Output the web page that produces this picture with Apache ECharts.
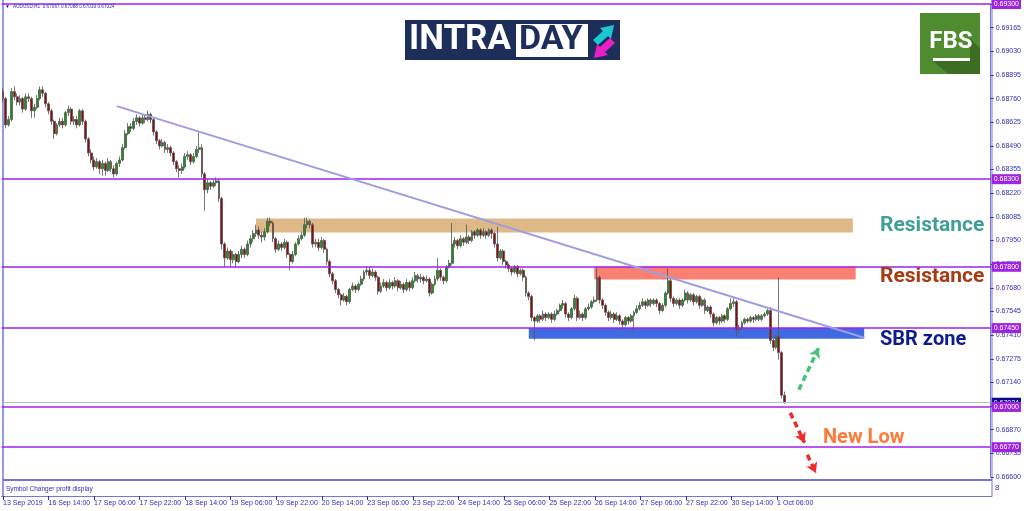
<!DOCTYPE html>
<html><head><meta charset="utf-8">
<script src="https://cdn.jsdelivr.net/npm/echarts@6/dist/echarts.min.js"></script>
<style>html,body{margin:0;padding:0;background:#fff}#c{width:1024px;height:511px}</style>
</head><body><div id="c"></div>
<script>
// ---------- DATA ----------
// trading sessions (H1 bars): [day label, first hour, last hour]
const sessions = [['13 Sep',22,23],['16 Sep',0,23],['17 Sep',0,23],['18 Sep',0,23],['19 Sep',0,23],['20 Sep',0,23],
  ['23 Sep',0,23],['24 Sep',0,23],['25 Sep',0,23],['26 Sep',0,23],['27 Sep',0,23],['30 Sep',0,23],['1 Oct',0,9]];
const firstLabel = '13 Sep 2019';

// candles [open, close, low, high] — 13 Sep 22:00 .. 20 Sep 23:00
const candlesWeek1 = [
[0.6880,0.6876,0.6874,0.6882],[0.6876,0.6861,0.6859,0.6877],
[0.6861,0.6864,0.6860,0.6866],[0.6864,0.6880,0.6863,0.6882],[0.6880,0.6877,0.6875,0.6883],[0.6877,0.6874,0.6872,0.6879],
[0.6874,0.6876,0.6872,0.6878],[0.6876,0.6870,0.6868,0.6877],[0.6870,0.6877,0.6869,0.6879],[0.6877,0.6876,0.6874,0.6879],
[0.6876,0.6869,0.6865,0.6877],[0.6869,0.6871,0.6865,0.6873],[0.6871,0.6876,0.6870,0.6878],[0.6876,0.6881,0.6875,0.6883],
[0.6881,0.6879,0.6877,0.6883],[0.6879,0.6873,0.6871,0.6880],[0.6873,0.6869,0.6867,0.6874],[0.6869,0.6863,0.6861,0.6870],
[0.6863,0.6856,0.6853,0.6864],[0.6856,0.6861,0.6855,0.6862],[0.6861,0.6863,0.6860,0.6865],[0.6863,0.6861,0.6859,0.6865],
[0.6861,0.6868,0.6860,0.6869],[0.6868,0.6870,0.6866,0.6872],[0.6870,0.6863,0.6861,0.6871],[0.6863,0.6864,0.6861,0.6866],
[0.6864,0.6861,0.6859,0.6866],[0.6861,0.6869,0.6860,0.6870],[0.6869,0.6863,0.6861,0.6870],[0.6863,0.6853,0.6851,0.6864],
[0.6853,0.6845,0.6843,0.6854],[0.6845,0.6841,0.6839,0.6847],[0.6841,0.6837,0.6835,0.6843],[0.6837,0.6840,0.6836,0.6842],
[0.6840,0.6836,0.6833,0.6841],[0.6836,0.6839,0.6832,0.6841],[0.6839,0.6835,0.6832,0.6840],[0.6835,0.6840,0.6834,0.6842],
[0.6840,0.6836,0.6834,0.6841],[0.6836,0.6833,0.6831,0.6838],[0.6833,0.6839,0.6832,0.6840],[0.6839,0.6841,0.6837,0.6843],
[0.6841,0.6848,0.6840,0.6850],[0.6848,0.6856,0.6847,0.6858],[0.6856,0.6860,0.6855,0.6862],[0.6860,0.6859,0.6857,0.6862],
[0.6859,0.6863,0.6858,0.6865],[0.6863,0.6865,0.6861,0.6867],[0.6865,0.6862,0.6860,0.6866],[0.6862,0.6865,0.6861,0.6867],
[0.6865,0.6864,0.6862,0.6867],[0.6864,0.6867,0.6863,0.6869],[0.6867,0.6864,0.6862,0.6868],[0.6864,0.6857,0.6855,0.6865],
[0.6857,0.6852,0.6850,0.6858],[0.6852,0.6849,0.6847,0.6853],[0.6849,0.6851,0.6848,0.6853],[0.6851,0.6847,0.6845,0.6852],
[0.6847,0.6848,0.6845,0.6850],[0.6848,0.6845,0.6843,0.6849],[0.6845,0.6840,0.6838,0.6846],[0.6840,0.6836,0.6834,0.6841],
[0.6836,0.6835,0.6831,0.6838],[0.6835,0.6837,0.6833,0.6839],[0.6837,0.6843,0.6836,0.6845],[0.6843,0.6844,0.6841,0.6846],
[0.6844,0.6840,0.6838,0.6845],[0.6840,0.6843,0.6839,0.6845],[0.6843,0.6847,0.6842,0.6849],[0.6847,0.6848,0.6845,0.6857],
[0.6848,0.6833,0.6831,0.6850],[0.6833,0.6824,0.6812,0.6834],[0.6824,0.6828,0.6822,0.6830],[0.6828,0.6826,0.6824,0.6829],
[0.6826,0.6828,0.6825,0.6830],[0.6828,0.6829,0.6826,0.6831],[0.6829,0.6819,0.6817,0.6830],[0.6819,0.6793,0.6790,0.6820],
[0.6793,0.6785,0.6780,0.6794],[0.6785,0.6789,0.6784,0.6791],[0.6789,0.6784,0.6780,0.6790],[0.6784,0.6787,0.6782,0.6789],
[0.6787,0.6783,0.6780,0.6788],[0.6783,0.6787,0.6782,0.6789],[0.6787,0.6790,0.6785,0.6792],[0.6790,0.6787,0.6785,0.6791],
[0.6787,0.6793,0.6786,0.6795],[0.6793,0.6796,0.6791,0.6798],[0.6796,0.6799,0.6794,0.6801],[0.6799,0.6801,0.6797,0.6804],
[0.6801,0.6798,0.6796,0.6803],[0.6798,0.6797,0.6794,0.6800],[0.6797,0.6800,0.6795,0.6802],[0.6800,0.6806,0.6799,0.6808],
[0.6806,0.6805,0.6803,0.6808],[0.6805,0.6796,0.6794,0.6806],[0.6796,0.6790,0.6788,0.6797],[0.6790,0.6793,0.6789,0.6795],
[0.6793,0.6791,0.6789,0.6794],[0.6791,0.6794,0.6790,0.6796],[0.6794,0.6787,0.6785,0.6795],[0.6787,0.6783,0.6778,0.6788],
[0.6783,0.6787,0.6782,0.6789],[0.6787,0.6793,0.6786,0.6794],[0.6793,0.6796,0.6792,0.6798],[0.6796,0.6798,0.6795,0.6800],
[0.6798,0.6804,0.6797,0.6808],[0.6804,0.6806,0.6802,0.6808],[0.6806,0.6804,0.6802,0.6807],[0.6804,0.6793,0.6791,0.6805],
[0.6793,0.6794,0.6791,0.6796],[0.6794,0.6791,0.6789,0.6796],[0.6791,0.6795,0.6790,0.6797],[0.6795,0.6790,0.6788,0.6796],
[0.6790,0.6783,0.6781,0.6791],[0.6783,0.6776,0.6774,0.6784],[0.6776,0.6772,0.6770,0.6777],[0.6772,0.6767,0.6765,0.6773],
[0.6767,0.6764,0.6762,0.6768],[0.6764,0.6761,0.6758,0.6765],[0.6761,0.6763,0.6760,0.6765],[0.6763,0.6760,0.6758,0.6764]
];
// 23 Sep 00:00 .. 27 Sep 23:00
const candlesWeek2 = [
[0.6760,0.6767,0.6759,0.6768],[0.6767,0.6769,0.6766,0.6771],[0.6769,0.6767,0.6765,0.6770],[0.6767,0.6770,0.6766,0.6771],
[0.6770,0.6773,0.6769,0.6775],[0.6773,0.6777,0.6772,0.6778],[0.6777,0.6778,0.6775,0.6780],[0.6778,0.6775,0.6773,0.6780],
[0.6775,0.6777,0.6774,0.6779],[0.6777,0.6774,0.6772,0.6778],[0.6774,0.6766,0.6764,0.6775],[0.6766,0.6769,0.6765,0.6771],
[0.6769,0.6771,0.6768,0.6773],[0.6771,0.6768,0.6766,0.6772],[0.6768,0.6771,0.6767,0.6773],[0.6771,0.6769,0.6767,0.6772],
[0.6769,0.6772,0.6768,0.6774],[0.6772,0.6768,0.6766,0.6773],[0.6768,0.6770,0.6767,0.6772],[0.6770,0.6767,0.6765,0.6771],
[0.6767,0.6771,0.6766,0.6773],[0.6771,0.6768,0.6766,0.6772],[0.6768,0.6772,0.6767,0.6774],[0.6772,0.6775,0.6771,0.6777],
[0.6775,0.6773,0.6771,0.6776],[0.6773,0.6774,0.6771,0.6776],[0.6774,0.6772,0.6770,0.6775],[0.6772,0.6773,0.6771,0.6775],
[0.6773,0.6765,0.6763,0.6774],[0.6765,0.6770,0.6764,0.6771],[0.6770,0.6773,0.6769,0.6775],[0.6773,0.6778,0.6772,0.6785],
[0.6778,0.6774,0.6772,0.6779],[0.6774,0.6772,0.6770,0.6775],[0.6772,0.6780,0.6771,0.6781],[0.6780,0.6782,0.6779,0.6784],
[0.6782,0.6793,0.6781,0.6805],[0.6793,0.6795,0.6791,0.6797],[0.6795,0.6792,0.6790,0.6796],[0.6792,0.6796,0.6791,0.6798],
[0.6796,0.6794,0.6792,0.6797],[0.6794,0.6797,0.6793,0.6804],[0.6797,0.6795,0.6793,0.6798],[0.6795,0.6800,0.6794,0.6801],
[0.6800,0.6798,0.6796,0.6801],[0.6798,0.6801,0.6797,0.6802],[0.6801,0.6798,0.6796,0.6802],[0.6798,0.6800,0.6797,0.6802],
[0.6800,0.6798,0.6796,0.6801],[0.6798,0.6801,0.6797,0.6802],[0.6801,0.6799,0.6796,0.6802],[0.6799,0.6793,0.6791,0.6800],
[0.6793,0.6785,0.6783,0.6803],[0.6785,0.6789,0.6784,0.6790],[0.6789,0.6783,0.6781,0.6790],[0.6783,0.6781,0.6779,0.6784],
[0.6781,0.6779,0.6777,0.6782],[0.6779,0.6777,0.6775,0.6780],[0.6777,0.6780,0.6776,0.6781],[0.6780,0.6776,0.6774,0.6781],
[0.6776,0.6778,0.6775,0.6779],[0.6778,0.6774,0.6772,0.6779],[0.6774,0.6765,0.6763,0.6775],[0.6765,0.6763,0.6761,0.6766],
[0.6763,0.6751,0.6749,0.6764],[0.6751,0.6749,0.6738,0.6752],[0.6749,0.6752,0.6748,0.6753],[0.6752,0.6750,0.6748,0.6753],
[0.6750,0.6753,0.6749,0.6755],[0.6753,0.6751,0.6749,0.6754],[0.6751,0.6753,0.6750,0.6754],[0.6753,0.6750,0.6748,0.6754],
[0.6750,0.6753,0.6749,0.6755],[0.6753,0.6755,0.6752,0.6756],[0.6755,0.6758,0.6754,0.6759],[0.6758,0.6759,0.6756,0.6761],
[0.6759,0.6753,0.6751,0.6760],[0.6753,0.6751,0.6749,0.6754],[0.6751,0.6756,0.6750,0.6757],[0.6756,0.6762,0.6755,0.6764],
[0.6762,0.6751,0.6749,0.6763],[0.6751,0.6753,0.6750,0.6755],[0.6753,0.6751,0.6749,0.6754],[0.6751,0.6756,0.6750,0.6757],
[0.6756,0.6757,0.6755,0.6759],[0.6757,0.6760,0.6756,0.6761],[0.6760,0.6761,0.6759,0.6763],[0.6761,0.6774,0.6760,0.6780],
[0.6774,0.6761,0.6759,0.6775],[0.6761,0.6758,0.6756,0.6762],[0.6758,0.6754,0.6752,0.6759],[0.6754,0.6751,0.6749,0.6755],
[0.6751,0.6753,0.6750,0.6755],[0.6753,0.6750,0.6748,0.6754],[0.6750,0.6752,0.6749,0.6754],[0.6752,0.6749,0.6747,0.6753],
[0.6749,0.6747,0.6744,0.6750],[0.6747,0.6751,0.6746,0.6752],[0.6751,0.6749,0.6747,0.6752],[0.6749,0.6752,0.6748,0.6753],
[0.6752,0.6754,0.6743,0.6755],[0.6754,0.6756,0.6753,0.6758],[0.6756,0.6758,0.6755,0.6760],[0.6758,0.6760,0.6757,0.6762],
[0.6760,0.6758,0.6756,0.6761],[0.6758,0.6761,0.6757,0.6762],[0.6761,0.6759,0.6757,0.6762],[0.6759,0.6761,0.6758,0.6762],
[0.6761,0.6759,0.6757,0.6762],[0.6759,0.6755,0.6753,0.6760],[0.6755,0.6758,0.6754,0.6759],[0.6758,0.6765,0.6757,0.6766],
[0.6765,0.6772,0.6764,0.6779],[0.6772,0.6762,0.6760,0.6773],[0.6762,0.6759,0.6757,0.6763],[0.6759,0.6761,0.6758,0.6762],
[0.6761,0.6758,0.6756,0.6762],[0.6758,0.6761,0.6757,0.6762],[0.6761,0.6765,0.6760,0.6767],[0.6765,0.6761,0.6759,0.6766]
];
// 30 Sep 00:00 .. 1 Oct 09:00
const candlesWeek3 = [
[0.6761,0.6764,0.6760,0.6765],[0.6764,0.6760,0.6758,0.6765],[0.6760,0.6763,0.6759,0.6764],[0.6763,0.6758,0.6756,0.6764],
[0.6758,0.6761,0.6757,0.6762],[0.6761,0.6755,0.6753,0.6762],[0.6755,0.6757,0.6754,0.6758],[0.6757,0.6753,0.6751,0.6758],
[0.6753,0.6748,0.6746,0.6754],[0.6748,0.6751,0.6747,0.6752],[0.6751,0.6749,0.6747,0.6752],[0.6749,0.6752,0.6748,0.6753],
[0.6752,0.6750,0.6748,0.6753],[0.6750,0.6756,0.6749,0.6757],[0.6756,0.6759,0.6755,0.6762],[0.6759,0.6760,0.6757,0.6762],
[0.6760,0.6744,0.6740,0.6761],[0.6744,0.6745,0.6742,0.6747],[0.6745,0.6748,0.6744,0.6749],[0.6748,0.6750,0.6747,0.6751],
[0.6750,0.6749,0.6748,0.6751],[0.6749,0.6751,0.6748,0.6752],[0.6751,0.6750,0.6748,0.6752],[0.6750,0.6752,0.6749,0.6753],
[0.6752,0.6750,0.6749,0.6753],[0.6750,0.6752,0.6749,0.6753],[0.6752,0.6753,0.6751,0.6754],[0.6753,0.6755,0.6752,0.6756],
[0.6755,0.6738,0.6736,0.6757],[0.6738,0.6734,0.6732,0.6739],[0.6734,0.6740,0.6733,0.6741],[0.6740,0.6731,0.6727,0.6774],
[0.6731,0.67067,0.6705,0.6732],[0.67067,0.67024,0.67019,0.67088]
];
const header = 'AUDUSD,H1  0.67067 0.67088 0.67019 0.67024';
const yTicks = [0.66600,0.66735,0.66870,0.67005,0.67140,0.67275,0.67410,0.67545,0.67680,0.67815,0.67950,
  0.68085,0.68220,0.68355,0.68490,0.68625,0.68760,0.68895,0.69030,0.69165,0.69300];
const levels = [0.69300, 0.68300, 0.67800, 0.67450, 0.67000, 0.66770];
const bidPrice = 0.67024;
const trendLine = [[40, 0.68717], [303, 0.67395]];            // [bar index, price]
const zoneResistance1 = [[89, 0.68076], [299, 0.67996]];
const zoneResistance2 = [[208, 0.67800], [300, 0.67727]];
const zoneSBR = [[185, 0.67450], [303, 0.67389]];
const arrowUp = [[280, 0.67098], [287, 0.67338]];
const arrowDown1 = [[277, 0.66967], [282, 0.66795]];
const arrowDown2 = [[283, 0.66727], [286, 0.66623]];

// ---------- BUILD ----------
const candles = candlesWeek1.concat(candlesWeek2, candlesWeek3);
const times = [];
sessions.forEach(([d, a, b]) => { for (let h = a; h <= b; h++) times.push(d + ' ' + String(h).padStart(2, '0') + ':00'); });
const SLOTS = 348;
const cats = times.slice();
for (let k = times.length; k < SLOTS; k++) cats.push('~' + k);
const showTick = (i) => i % 16 === 0 && i < times.length;

const BLUE = '#2e2eb4', FRAME = '#7474de', PURPLE = '#a020f0';
const FONT = '"Liberation Sans", Arial, sans-serif';
const lvlLabel = (bg) => ({show: true, position: 'end', distance: 1, fontSize: 7, fontFamily: FONT, color: '#fff',
  backgroundColor: bg, padding: [1, 2, 1, 2], lineHeight: 8});

const mlData = [];
mlData.push({yAxis: bidPrice, lineStyle: {color: '#bcbcbc', width: 1, type: 'solid'},
  label: Object.assign(lvlLabel('#0b0b8e'), {formatter: bidPrice.toFixed(5)})});
levels.forEach(v => mlData.push({yAxis: v, lineStyle: {color: PURPLE, width: 1.6, type: 'solid'},
  label: Object.assign(lvlLabel('#9d24e0'), {formatter: v.toFixed(5)})}));
mlData.push([{coord: trendLine[0], symbol: 'none', lineStyle: {color: '#9d9de3', width: 2, type: 'solid'}},
             {coord: trendLine[1], symbol: 'none'}]);
const arrowPair = (seg, color) => [
  {coord: seg[0], symbol: 'none', lineStyle: {color: color, width: 3.5, type: [6, 4]}},
  {coord: seg[1], symbol: 'arrow', symbolSize: [9, 10]}];
mlData.push(arrowPair(arrowUp, '#46c27c'));
mlData.push(arrowPair(arrowDown1, '#ee2a2a'));
mlData.push(arrowPair(arrowDown2, '#ee2a2a'));

const zone = (z, color) => [{coord: z[0], itemStyle: {color: color, opacity: 1}}, {coord: z[1]}];

const txt = (x, y, s, size, color, weight, family, align) => ({type: 'text', x: x, y: y, silent: true, z: 100,
  style: {text: s, fill: color, font: (weight || 'normal') + ' ' + size + 'px ' + (family || FONT),
          textVerticalAlign: 'middle', textAlign: align || 'left'}});

const graphics = [
  {type: 'line', silent: true, shape: {x1: 3, y1: 0, x2: 3, y2: 496}, style: {stroke: FRAME, lineWidth: 1.5}},
  {type: 'line', silent: true, shape: {x1: 992, y1: 0, x2: 992, y2: 496}, style: {stroke: FRAME, lineWidth: 1}},
  {type: 'rect', silent: true, shape: {x: 3, y: 479, width: 989, height: 2}, style: {fill: FRAME}},
  txt(5, 7, '▼', 5, '#1a1aa8'),
  txt(13, 7, header, 4.7, BLUE),
  txt(6, 489, 'Symbol Changer profit display', 6.5, BLUE),
  txt(995, 488, '8', 8, BLUE),
  // INTRADAY logo
  {type: 'rect', silent: true, shape: {x: 405, y: 20, width: 215, height: 40}, style: {fill: '#1d2e5b'}},
  txt(409, 40, 'INTRA', 35, '#ffffff', 'bold', 'Roboto'),
  {type: 'rect', silent: true, shape: {x: 516, y: 24, width: 72, height: 33}, style: {fill: '#ffffff'}},
  txt(519, 40, 'DAY', 34, '#1d2e5b', 'bold', 'Roboto'),
  {type: 'polygon', silent: true, shape: {points: [[593,40],[603,31],[600,28],[614,25],[611,39],[608,36],[598,45]]}, style: {fill: '#19c9cf'}},
  {type: 'polygon', silent: true, shape: {points: [[615,43],[605,52],[608,55],[594,58],[597,44],[600,47],[610,38]]}, style: {fill: '#ea1fc6'}},
  // FBS logo
  {type: 'rect', silent: true, shape: {x: 920, y: 13, width: 60, height: 61}, style: {fill: '#4f8b2f'}},
  {type: 'polygon', silent: true, shape: {points: [[962,30],[980,48],[980,74],[948,74],[933,61],[970,61],[970,38]]}, style: {fill: '#3e6c23'}},
  txt(951, 42, 'FBS', 24, '#ffffff', 'bold', 'Roboto', 'center'),
  {type: 'rect', silent: true, shape: {x: 933, y: 58, width: 37, height: 3}, style: {fill: '#ffffff'}},
  // annotations
  txt(880, 226, 'Resistance', 21, '#3d9f98', 'bold', 'Roboto'),
  txt(880, 277, 'Resistance', 21, '#a63b14', 'bold', 'Roboto'),
  txt(880, 340, 'SBR zone', 20, '#0d1b8c', 'bold', 'Roboto'),
  txt(823, 438, 'New Low', 20, '#ff7a38', 'bold', 'Roboto')
];

const option = {
  animation: false,
  backgroundColor: '#ffffff',
  grid: [{left: 1.575, right: 32, top: 4, height: 473}, {left: 1.575, right: 32, top: 481, height: 15}],
  xAxis: [
    {type: 'category', gridIndex: 0, data: cats, show: false},
    {type: 'category', gridIndex: 1, data: cats,
      axisLine: {show: true, lineStyle: {color: FRAME, width: 1}},
      axisTick: {show: true, alignWithLabel: true, interval: (i) => showTick(i), length: 4, lineStyle: {color: BLUE}},
      axisLabel: {interval: (i) => showTick(i), formatter: (v, i) => i === 0 ? firstLabel : v, align: 'left',
        margin: 4, fontSize: 7, color: BLUE, fontFamily: FONT}}
  ],
  yAxis: [
    {type: 'value', gridIndex: 0, position: 'right', min: 0.666, max: 0.693, splitLine: {show: false},
      axisLine: {show: true, lineStyle: {color: FRAME}},
      axisTick: {show: true, length: 3, customValues: yTicks, lineStyle: {color: BLUE}},
      axisLabel: {customValues: yTicks, formatter: (v) => v.toFixed(5), fontSize: 7, color: BLUE, margin: 5, fontFamily: FONT}},
    {type: 'value', gridIndex: 1, show: false}
  ],
  graphic: {elements: graphics},
  series: [{
    type: 'candlestick', xAxisIndex: 0, yAxisIndex: 0, data: candles, barWidth: 2.4,
    itemStyle: {color: '#109a10', color0: '#9c0505', borderColor: '#555555', borderColor0: '#555555', borderWidth: 0.8},
    markArea: {silent: true, data: [zone(zoneResistance1, '#deb887'), zone(zoneResistance2, '#fa8072'), zone(zoneSBR, '#4169e1')]},
    markLine: {silent: true, precision: 5, symbol: ['none', 'none'], label: {show: false}, data: mlData}
  }]
};
const chart = echarts.init(document.getElementById('c'));
chart.setOption(option);
</script></body></html>
